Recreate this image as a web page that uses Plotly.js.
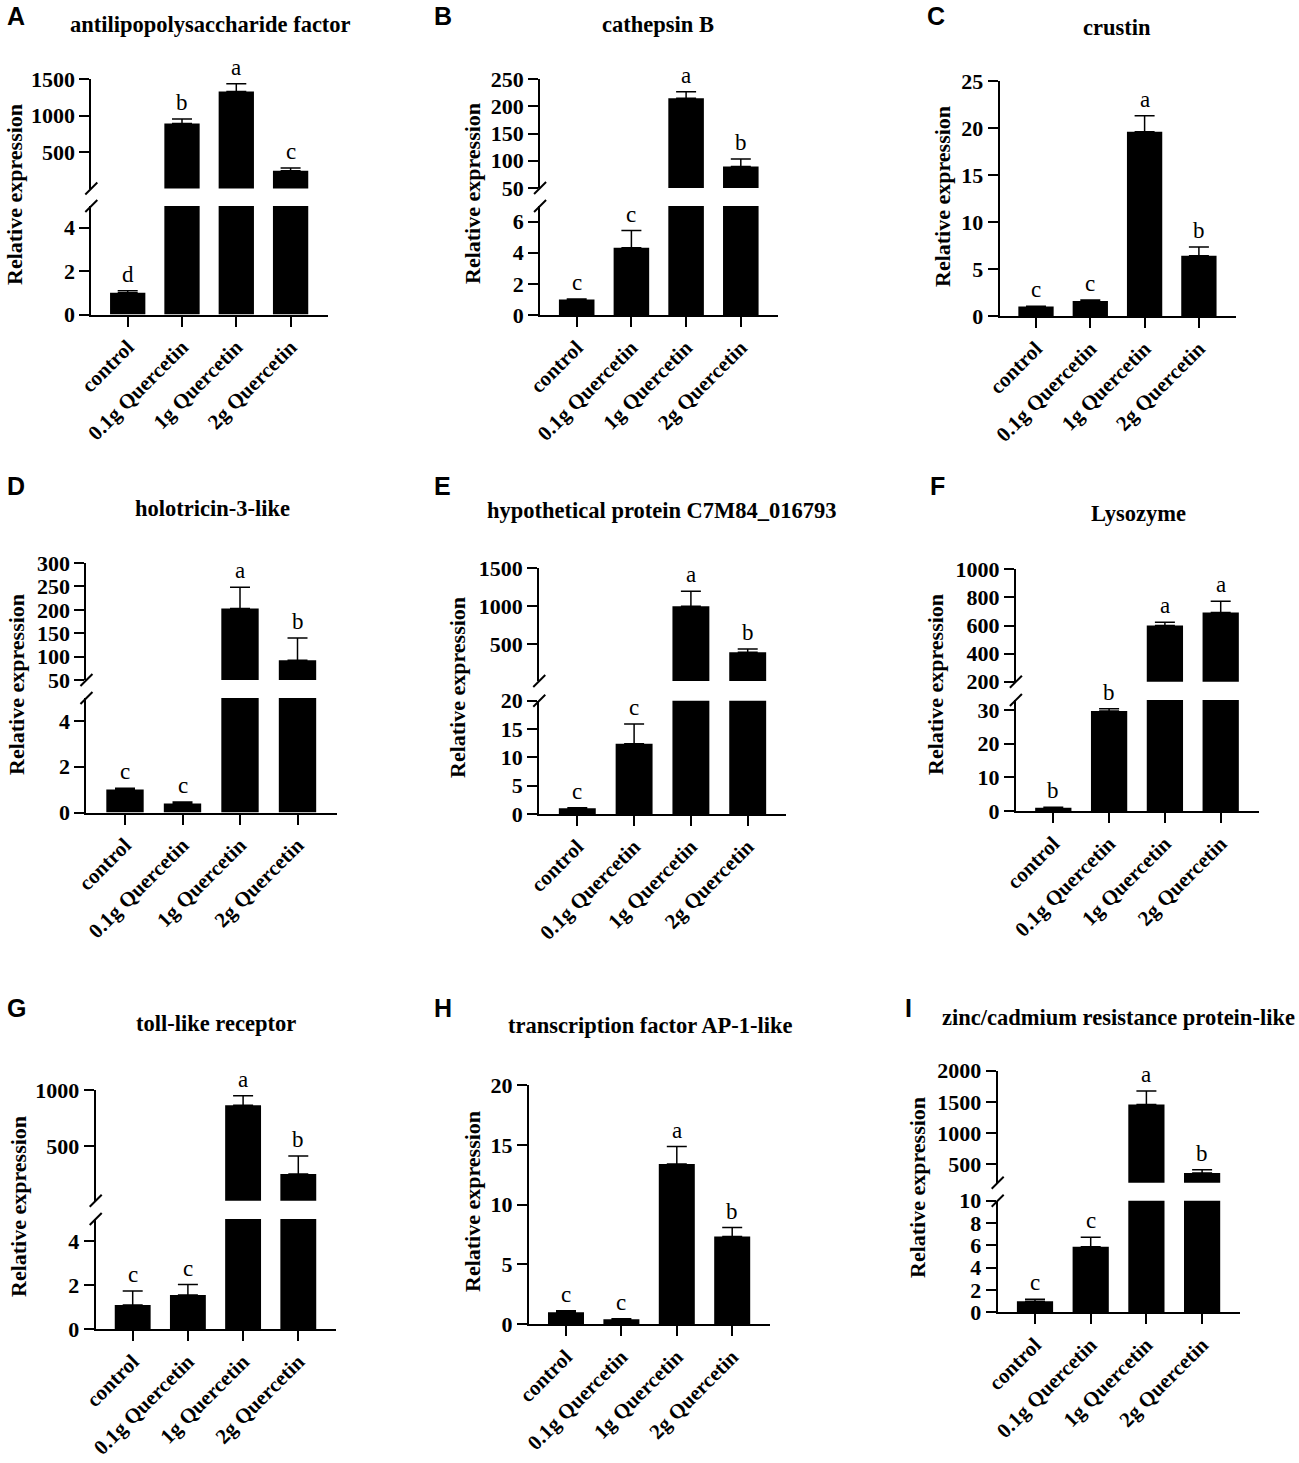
<!DOCTYPE html>
<html>
<head>
<meta charset="utf-8">
<script src="https://cdn.plot.ly/plotly-3.0.1.min.js"></script>
<style>
  body { margin: 0; background: #fff; }
  #chart { width: 1299px; height: 1463px; }
</style>
</head>
<body>
<div id="chart"></div>
<script>
'use strict';

const groups = ['control', '0.1g Quercetin', '1g Quercetin', '2g Quercetin'];

const geneNames = [
    'antilipopolysaccharide factor',
    'cathepsin B',
    'crustin',
    'holotricin-3-like',
    'hypothetical protein C7M84_016793',
    'Lysozyme',
    'toll-like receptor',
    'transcription factor AP-1-like',
    'zinc/cadmium resistance protein-like'
];
const panelLetters = ['A', 'B', 'C', 'D', 'E', 'F', 'G', 'H', 'I'];

// mean, upper error (SD) and significance letters
const alfMean = [1.0, 896, 1329, 252];
const alfErr = [0.1, 59, 105, 36];
const alfSig = ['d', 'b', 'a', 'c'];

const ctsbMean = [1.0, 4.32, 214.7, 89.4];
const ctsbErr = [0.03, 1.1, 12, 14];
const ctsbSig = ['c', 'c', 'a', 'b'];

const crustinMean = [1.0, 1.6, 19.6, 6.4];
const crustinErr = [0.03, 0.1, 1.7, 0.95];
const crustinSig = ['c', 'c', 'a', 'b'];

const holoMean = [1.0, 0.39, 203, 92];
const holoErr = [0.06, 0.07, 45, 48];
const holoSig = ['c', 'c', 'a', 'b'];

const hypoMean = [1.0, 12.4, 1000, 399];
const hypoErr = [0.1, 3.5, 200, 41];
const hypoSig = ['c', 'c', 'a', 'b'];

const lysMean = [1.0, 29.7, 600, 692];
const lysErr = [0.1, 0.7, 24, 80];
const lysSig = ['b', 'b', 'a', 'a'];

const tollMean = [1.09, 1.54, 864, 248];
const tollErr = [0.64, 0.48, 84, 161];
const tollSig = ['c', 'c', 'a', 'b'];

const ap1Mean = [1.0, 0.42, 13.4, 7.33];
const ap1Err = [0.14, 0.05, 1.45, 0.75];
const ap1Sig = ['c', 'c', 'a', 'b'];

const zincMean = [1.0, 5.88, 1455, 356];
const zincErr = [0.16, 0.84, 220, 54];
const zincSig = ['c', 'c', 'a', 'b'];

const means = [alfMean, ctsbMean, crustinMean, holoMean, hypoMean, lysMean, tollMean, ap1Mean, zincMean];
const errs = [alfErr, ctsbErr, crustinErr, holoErr, hypoErr, lysErr, tollErr, ap1Err, zincErr];
const sigs = [alfSig, ctsbSig, crustinSig, holoSig, hypoSig, lysSig, tollSig, ap1Sig, zincSig];

// axis ranges; broken axes have an upper and a lower part
const upRanges = [[10, 1500], [50, 250], null, [50, 300], [20, 1500], [200, 1000], [10, 1000], null, [200, 2000]];
const upTicks = [[500, 1000, 1500], [50, 100, 150, 200, 250], null, [50, 100, 150, 200, 250, 300],
    [500, 1000, 1500], [200, 400, 600, 800, 1000], [500, 1000], null, [500, 1000, 1500, 2000]];
const lowRanges = [[0, 5], [0, 7], [0, 25], [0, 5], [0, 20], [0, 33], [0, 5], [0, 20], [0, 10]];
const lowTicks = [[0, 2, 4], [0, 2, 4, 6], [0, 5, 10, 15, 20, 25], [0, 2, 4], [0, 5, 10, 15, 20],
    [0, 10, 20, 30], [0, 2, 4], [0, 5, 10, 15, 20], [0, 2, 4, 6, 8, 10]];

// page geometry (pixels)
const W = 1299, H = 1463;
const X_LO = -0.67, X_HI = 3.68;
const frames = [
    {c0: 127.7, step: 54.3, up: [79, 188.5], low: [206, 314.5], title: [210, 25], letter: [5, 16], ytitle: [14, 195]},
    {c0: 576.7, step: 54.7, up: [79, 188], low: [206, 315], title: [658, 25], letter: [432, 16], ytitle: [473, 194]},
    {c0: 1036, step: 54.3, up: null, low: [81, 316], title: [1117, 28], letter: [925, 16], ytitle: [943, 197]},
    {c0: 125, step: 57.5, up: [563, 680], low: [698, 812.5], title: [212, 509], letter: [5, 486], ytitle: [16, 685]},
    {c0: 577.3, step: 56.8, up: [568.3, 681], low: [700.7, 814], title: [662, 511], letter: [432, 486], ytitle: [457, 688]},
    {c0: 1053.3, step: 55.8, up: [569.3, 681.7], low: [700, 811], title: [1138, 513], letter: [928, 486], ytitle: [935, 685]},
    {c0: 132.7, step: 55.2, up: [1090, 1200.7], low: [1219, 1329], title: [216, 1023], letter: [5, 1008], ytitle: [18, 1207]},
    {c0: 566, step: 55.4, up: null, low: [1085, 1324.3], title: [650, 1025], letter: [432, 1008], ytitle: [472, 1202]},
    {c0: 1035, step: 55.7, up: [1070.7, 1182.7], low: [1200.7, 1312.3], title: [1118, 1017], letter: [903, 1008], ytitle: [917, 1188]}
];

const SERIF = '"Liberation Serif", "Times New Roman", serif';
const SANS = '"Liberation Sans", Arial, sans-serif';

function px(p) { return p / W; }
function py(p) { return 1 - p / H; }

function yAxisDef(band, range, ticks, xName) {
    return {
        domain: [py(band[1]), py(band[0])],
        range: range,
        tickvals: ticks,
        ticktext: ticks.map(String),
        anchor: xName,
        showline: true, linecolor: '#000', linewidth: 2,
        ticks: 'outside', ticklen: 10, tickwidth: 2, tickcolor: '#000',
        tickfont: {family: SERIF, size: 22, color: '#000', weight: 'bold'},
        showgrid: false, zeroline: false, fixedrange: true
    };
}

const traces = [];
const layout = {
    width: W, height: H,
    margin: {l: 0, r: 0, t: 0, b: 0},
    paper_bgcolor: '#fff', plot_bgcolor: 'rgba(0,0,0,0)',
    showlegend: false,
    annotations: [],
    shapes: []
};

let yCount = 0;
frames.forEach((f, i) => {
    const xn = 'x' + (i + 1);
    const xKey = 'xaxis' + (i + 1);
    layout[xKey] = {
        domain: [px(f.c0 + X_LO * f.step), px(f.c0 + X_HI * f.step)],
        range: [X_LO, X_HI],
        type: 'category',
        showline: true, linecolor: '#000', linewidth: 2,
        ticks: 'outside', ticklen: 10, tickwidth: 2, tickcolor: '#000',
        tickangle: -45,
        tickfont: {family: SERIF, size: 21, color: '#000', weight: 'bold'},
        showgrid: false, zeroline: false, fixedrange: true
    };

    // lower (or only) part
    yCount++;
    const lowName = 'y' + yCount;
    layout['yaxis' + yCount] = yAxisDef(f.low, lowRanges[i], lowTicks[i], xn);
    layout[xKey].anchor = lowName;
    const bands = [{name: lowName, range: lowRanges[i]}];

    let upName = null;
    if (f.up) {
        yCount++;
        upName = 'y' + yCount;
        layout['yaxis' + yCount] = yAxisDef(f.up, upRanges[i], upTicks[i], xn);
        bands.push({name: upName, range: upRanges[i]});

        // break marks at the two ends of the gap
        [[upName, 0], [lowName, 1]].forEach(([yn, anchor]) => {
            layout.shapes.push({
                type: 'line', xref: xn + ' domain', yref: yn + ' domain',
                xsizemode: 'pixel', xanchor: 0, x0: -6, x1: 6,
                ysizemode: 'pixel', yanchor: anchor, y0: -6, y1: 6,
                line: {color: '#000', width: 2}
            });
        });
    }

    bands.forEach(b => {
        // error bars only where the bar top lies inside this part of the axis
        const inBand = means[i].map(m => m >= b.range[0] && m <= b.range[1]);
        const errHere = errs[i].map((e, k) => inBand[k] ? e : NaN);
        const errDown = errs[i].map((e, k) => inBand[k] ? 0 : NaN);
        traces.push({
            type: 'bar',
            x: groups,
            y: means[i],
            xaxis: xn,
            yaxis: b.name,
            width: 0.65,
            marker: {color: '#000', line: {width: 0}},
            error_y: {
                type: 'data', symmetric: false,
                array: errHere, arrayminus: errDown,
                color: '#000', thickness: 1.5, width: 10
            },
            cliponaxis: true,
            hoverinfo: 'skip'
        });
    });

    // significance letters
    groups.forEach((g, k) => {
        const top = means[i][k] + errs[i][k];
        const yn = (upName && top > lowRanges[i][1]) ? upName : lowName;
        layout.annotations.push({
            x: g, y: top, xref: xn, yref: yn,
            text: sigs[i][k], showarrow: false,
            xanchor: 'center', yanchor: 'bottom', yshift: 2,
            font: {family: SERIF, size: 23, color: '#000'}
        });
    });

    // panel title, letter and y axis title
    layout.annotations.push({
        x: px(f.title[0]), y: py(f.title[1]), xref: 'paper', yref: 'paper',
        text: geneNames[i], showarrow: false, xanchor: 'center', yanchor: 'middle',
        font: {family: SERIF, size: 22.5, color: '#000', weight: 'bold'}
    });
    layout.annotations.push({
        x: px(f.letter[0]), y: py(f.letter[1]), xref: 'paper', yref: 'paper',
        text: panelLetters[i], showarrow: false, xanchor: 'left', yanchor: 'middle',
        font: {family: SANS, size: 25, color: '#000', weight: 'bold'}
    });
    layout.annotations.push({
        x: px(f.ytitle[0]), y: py(f.ytitle[1]), xref: 'paper', yref: 'paper',
        text: 'Relative expression', showarrow: false, textangle: -90,
        xanchor: 'center', yanchor: 'middle',
        font: {family: SERIF, size: 22, color: '#000', weight: 'bold'}
    });
});

Plotly.newPlot('chart', traces, layout, {displayModeBar: false, staticPlot: true});
</script>
</body>
</html>
